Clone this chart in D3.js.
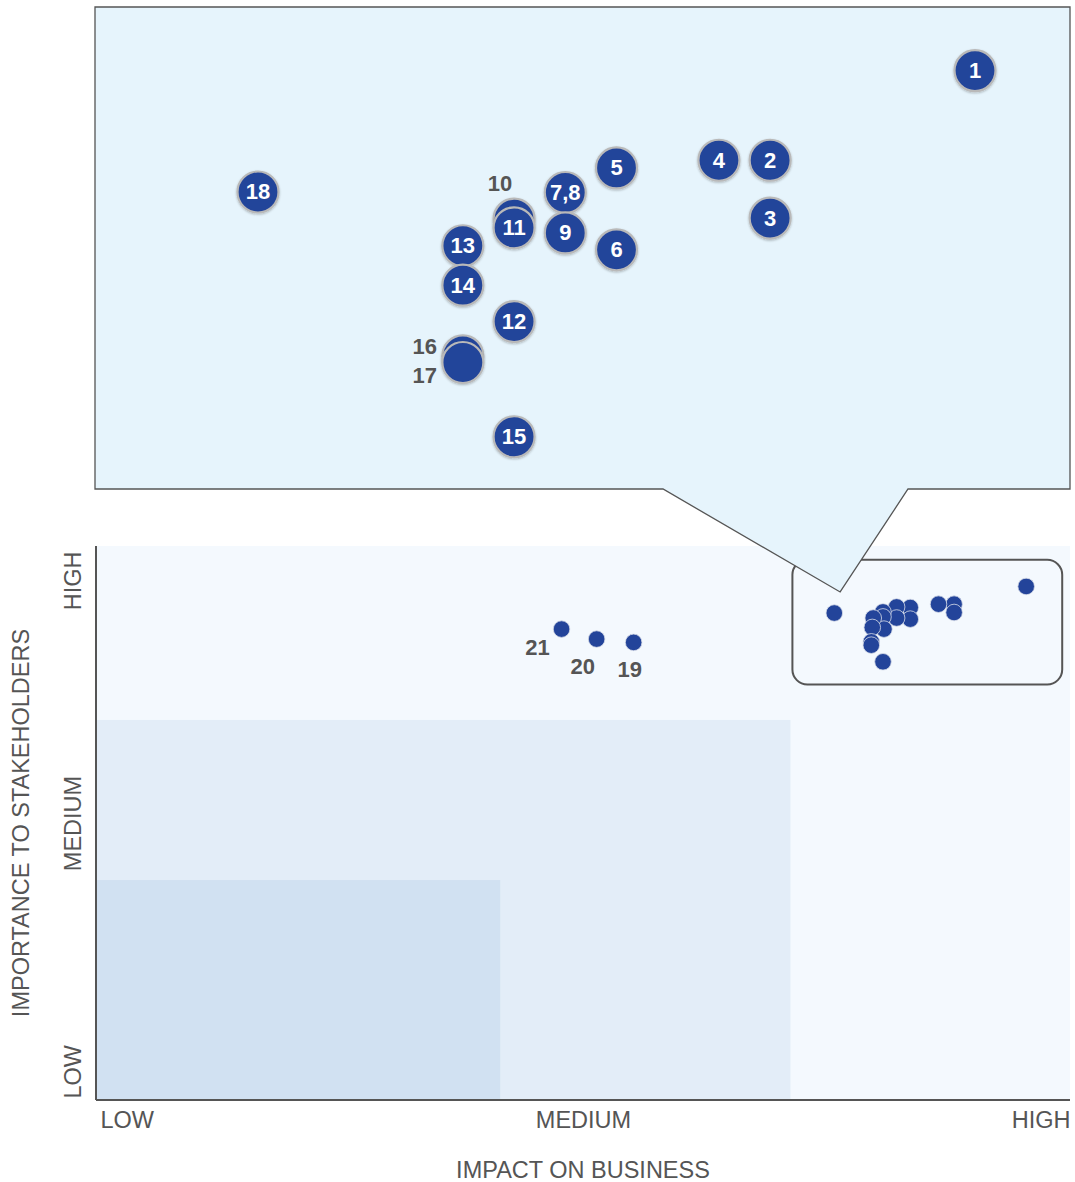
<!DOCTYPE html>
<html>
<head>
<meta charset="utf-8">
<script src="https://cdn.jsdelivr.net/npm/d3@7"></script>
<style>
  html, body { margin: 0; padding: 0; background: #ffffff; }
  svg { display: block; }
  text { font-family: "Liberation Sans", Arial, Helvetica, sans-serif; }
</style>
</head>
<body>
<svg id="chart" width="1075" height="1182"></svg>
<script>
// Materiality matrix: topics scored on impact on business (x) and importance to stakeholders (y), 0-100
const topicLabels = ["1","2","3","4","5","6","7,8","9","10","11","12","13","14","15","16","17","18","19","20","21"];
const impactScores = [95.5, 88.1, 88.1, 86.5, 83.6, 83.6, 82.2, 82.2, 80.8, 80.8, 80.9, 79.8, 79.7, 80.8, 79.6, 79.6, 75.8, 55.2, 51.4, 47.8];
const importanceScores = [92.7, 89.5, 88.0, 89.5, 88.9, 86.8, 89.0, 87.0, 88.1, 87.2, 85.0, 87.0, 85.3, 79.1, 82.7, 82.1, 87.9, 82.6, 83.2, 85.0];

// Zoomed detail of the leading cluster (topics 1-18), spread out on a finer grid
const detailLabels = ["1","2","3","4","5","6","7,8","9","10","11","12","13","14","15","16","17","18"];
const detailImpact = [14, 10, 10, 9, 7, 7, 6, 6, 5, 5, 5, 4, 4, 5, 4, 4, 0];
const detailImportance = [8.17, 6.42, 5.29, 6.42, 6.27, 4.67, 5.79, 5.00, 5.27, 5.10, 3.27, 4.75, 3.98, 1.02, 2.60, 2.47, 5.80];
// Labels drawn beside (not inside) circles that are mostly hidden
const outsideLabels = ["10", "16", "17"];

// Axis levels and zone thresholds
const levelNames = ["LOW", "MEDIUM", "HIGH"];
const levelValues = [0, 50, 100];
const impactBands = [41.5, 71.3];
const importanceBands = [39.7, 68.6];
// Extent of the highlighted cluster
const focusImpact = [71.5, 99.2];
const focusImportance = [75.0, 97.5];
const calloutTip = [76.4, 91.7];

const svg = d3.select("#chart");
const C = { dot: "#23449a", text: "#555555", axis: "#555555" };
const AXIS_FONT = 23.5;

const plot = { left: 96, right: 1070, top: 546, bottom: 1100 };
const x = d3.scaleLinear().domain([0, 100]).range([plot.left, plot.right]);
const y = d3.scaleLinear().domain([0, 100]).range([plot.bottom, plot.top]);

// Zone backgrounds
svg.append("rect").attr("x", x(0)).attr("y", y(100)).attr("width", x(100) - x(0)).attr("height", y(0) - y(100)).attr("fill", "#f4f9fe");
svg.append("rect").attr("x", x(0)).attr("y", y(importanceBands[1])).attr("width", x(impactBands[1]) - x(0)).attr("height", y(0) - y(importanceBands[1])).attr("fill", "#e3edf8");
svg.append("rect").attr("x", x(0)).attr("y", y(importanceBands[0])).attr("width", x(impactBands[0]) - x(0)).attr("height", y(0) - y(importanceBands[0])).attr("fill", "#d1e1f2");

// Axes
const xAxis = d3.axisBottom(x).tickValues(levelValues).tickFormat((d, i) => levelNames[i]).tickSize(0).tickPadding(11);
const gx = svg.append("g").attr("transform", `translate(0,${plot.bottom})`).call(xAxis);
gx.select(".domain").attr("stroke", C.axis).attr("stroke-width", 2).attr("d", `M${plot.left},0H${plot.right}`);
gx.selectAll(".tick text").attr("fill", C.text).attr("font-size", AXIS_FONT)
  .attr("text-anchor", (d, i) => ["start", "middle", "end"][i])
  .attr("dx", (d, i) => [4, 0, 0][i]);

const yAxis = d3.axisLeft(y).tickValues(levelValues).tickFormat((d, i) => levelNames[i]).tickSize(0).tickPadding(0);
const gy = svg.append("g").attr("transform", `translate(${plot.left},0)`).call(yAxis);
gy.select(".domain").attr("stroke", C.axis).attr("stroke-width", 2).attr("d", `M0,${plot.top}V${plot.bottom}`);
gy.selectAll(".tick text").attr("fill", C.text).attr("font-size", AXIS_FONT)
  .attr("x", 0).attr("dy", 0)
  .attr("transform", "translate(-15,0) rotate(-90)")
  .attr("text-anchor", (d, i) => ["start", "middle", "end"][i])
  .attr("dx", (d, i) => [2, 0, -5][i])
  .attr("dominant-baseline", "auto");

svg.append("text").attr("x", (plot.left + plot.right) / 2).attr("y", 1178).attr("text-anchor", "middle")
  .attr("font-size", AXIS_FONT).attr("fill", C.text).text("IMPACT ON BUSINESS");
svg.append("text").attr("transform", `translate(29,${(plot.top + plot.bottom) / 2}) rotate(-90)`).attr("text-anchor", "middle")
  .attr("font-size", AXIS_FONT).attr("fill", C.text).text("IMPORTANCE TO STAKEHOLDERS");

// Highlight box around the cluster
svg.append("rect")
  .attr("x", x(focusImpact[0])).attr("y", y(focusImportance[1]))
  .attr("width", x(focusImpact[1]) - x(focusImpact[0])).attr("height", y(focusImportance[0]) - y(focusImportance[1]))
  .attr("rx", 15).attr("fill", "none").attr("stroke", C.axis).attr("stroke-width", 2);

// Topic dots
const topics = topicLabels.map((t, i) => ({ t, ix: impactScores[i], im: importanceScores[i] }));
svg.append("g").selectAll("circle").data(topics).join("circle")
  .attr("cx", d => x(d.ix)).attr("cy", d => y(d.im)).attr("r", 8.3)
  .attr("fill", C.dot).attr("stroke", "#d8dde8").attr("stroke-width", 0.8);

// Labels for the topics outside the cluster
const labelOffsets = { "19": [-4, 27], "20": [-14, 27], "21": [-24, 18] };
svg.append("g").selectAll("text").data(topics.filter(d => labelOffsets[d.t])).join("text")
  .attr("x", d => x(d.ix) + labelOffsets[d.t][0]).attr("y", d => y(d.im) + labelOffsets[d.t][1])
  .attr("text-anchor", "middle").attr("dominant-baseline", "central")
  .attr("font-size", 22).attr("font-weight", "bold").attr("fill", C.text).text(d => d.t);

// Detail panel with a pointer to the cluster
const panel = { left: 95, right: 1070, top: 7, bottom: 489, baseL: 663, baseR: 908 };
const tip = [x(calloutTip[0]), y(calloutTip[1])];
svg.append("path")
  .attr("d", `M${panel.left},${panel.top}H${panel.right}V${panel.bottom}H${panel.baseR}L${tip[0]},${tip[1]}L${panel.baseL},${panel.bottom}H${panel.left}Z`)
  .attr("fill", "#e6f4fc").attr("stroke", C.axis).attr("stroke-width", 1.3).attr("stroke-linejoin", "miter");

const ix = d3.scaleLinear().domain([0, 14]).range([258, 975]);
const iy = d3.scaleLinear().domain([0, 9]).range([panel.bottom, panel.bottom - 9 * 51.21]);

const defs = svg.append("defs");
const sh = defs.append("filter").attr("id", "soft").attr("x", "-30%").attr("y", "-30%").attr("width", "160%").attr("height", "160%");
sh.append("feDropShadow").attr("dx", 0).attr("dy", 1).attr("stdDeviation", 1).attr("flood-color", "#000").attr("flood-opacity", 0.25);

const detail = detailLabels.map((t, i) => ({ t, dx: detailImpact[i], dy: detailImportance[i] }));
const dg = svg.append("g").selectAll("g").data(detail).join("g")
  .attr("transform", d => `translate(${ix(d.dx)},${iy(d.dy)})`);
dg.append("circle").attr("r", 20.5).attr("fill", C.dot).attr("stroke", "#b9b9b9").attr("stroke-width", 2.2).attr("filter", "url(#soft)");
dg.filter(d => !outsideLabels.includes(d.t)).append("text")
  .attr("text-anchor", "middle").attr("dominant-baseline", "central").attr("dy", 0)
  .attr("font-size", 22).attr("font-weight", "bold").attr("fill", "#ffffff").text(d => d.t);

// Side labels for the stacked circles
const sideOffsets = { "10": [-14, -36], "16": [-38, -9], "17": [-38, 13] };
svg.append("g").selectAll("text").data(detail.filter(d => sideOffsets[d.t])).join("text")
  .attr("x", d => ix(d.dx) + sideOffsets[d.t][0]).attr("y", d => iy(d.dy) + sideOffsets[d.t][1])
  .attr("text-anchor", "middle").attr("dominant-baseline", "central")
  .attr("font-size", 22).attr("font-weight", "bold").attr("fill", C.text).text(d => d.t);
</script>
</body>
</html>
